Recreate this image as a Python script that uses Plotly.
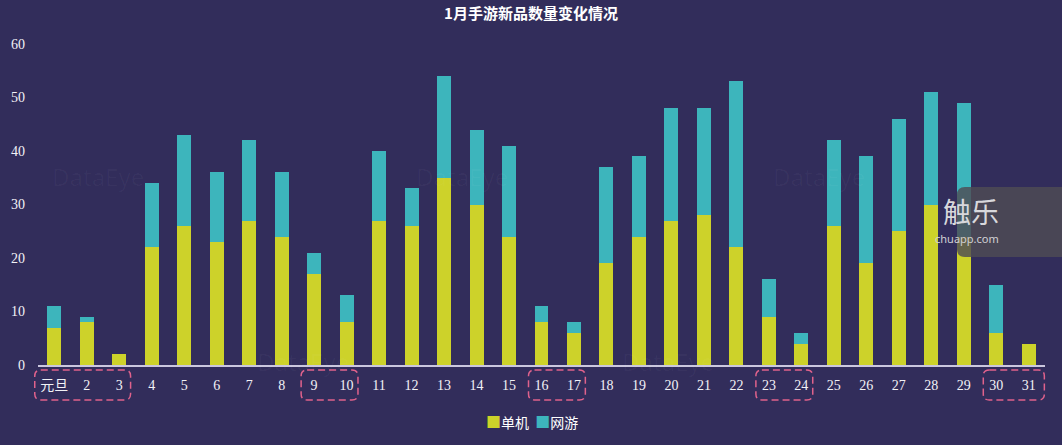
import plotly.graph_objects as go

# ---- data ----
days = ["元旦"] + [str(i) for i in range(2, 32)]
series_names = ["单机", "网游"]
single = [7, 8, 2, 22, 26, 23, 27, 24, 17, 8, 27, 26, 35, 30, 24, 8, 6, 19, 24, 27, 28, 22, 9, 4, 26, 19, 25, 30, 24, 6, 4]
total = [11, 9, 2, 34, 43, 36, 42, 36, 21, 13, 40, 33, 54, 44, 41, 11, 8, 37, 39, 48, 48, 53, 16, 6, 42, 39, 46, 51, 49, 15, 4]
online = [t - s for t, s in zip(total, single)]
y_ticks = [0, 10, 20, 30, 40, 50, 60]
# highlighted (weekend / holiday) groups: first and last day index (1-based)
groups = [(1, 3), (9, 10), (16, 17), (23, 24), (30, 31)]

BG = "#322d5b"
YELLOW = "#cdd22a"
TEAL = "#3db5bc"
colors = [YELLOW, TEAL]

W, H = 1062, 445
ML, MR, MT, MB = 38, 17, 44, 80
PW, PH = W - ML - MR, H - MT - MB
N = len(days)

fig = go.Figure()
for name, vals, col in zip(series_names, [single, online], colors):
    fig.add_trace(go.Bar(name=name, x=days, y=vals, marker=dict(color=col, line=dict(width=0))))

def px_y(p):
    return (MT + PH - p) / PH

shapes = []
r = 6
rx, ry = r / PW, r / PH
yt, yb = px_y(370), px_y(400)
for k, (a, b) in enumerate(groups):
    lpad = -0.6 if k == 0 else -0.4
    rpad = 0.48 if k == len(groups) - 1 else 0.35
    x0 = (a - 1 + 0.5 + lpad) / N
    x1 = (b - 1 + 0.5 + rpad) / N
    path = (f"M {x0+rx},{yt} L {x1-rx},{yt} Q {x1},{yt} {x1},{yt-ry} "
            f"L {x1},{yb+ry} Q {x1},{yb} {x1-rx},{yb} L {x0+rx},{yb} "
            f"Q {x0},{yb} {x0},{yb+ry} L {x0},{yt-ry} Q {x0},{yt} {x0+rx},{yt} Z")
    shapes.append(dict(type="path", path=path, xref="paper", yref="paper",
                       line=dict(color="#e0628c", width=1.5, dash="7px,4px")))

# chuapp watermark box
bx0, bx1 = (957 - ML) / PW, (1062 - ML) / PW
by0, by1 = px_y(257), px_y(187)
rr = 8 / PW
rry = 8 / PH
shapes.append(dict(type="path", xref="paper", yref="paper", layer="above",
                   path=(f"M {bx0+rr},{by1} L {bx1},{by1} L {bx1},{by0} L {bx0+rr},{by0} "
                         f"Q {bx0},{by0} {bx0},{by0+rry} L {bx0},{by1-rry} Q {bx0},{by1} {bx0+rr},{by1} Z"),
                   fillcolor="rgba(78,76,84,0.82)", line=dict(width=0)))

annotations = []
# DataEye faint watermarks
for (xp, yp) in [(50, 176), (462, 176), (867, 176), (255, 380), (668, 380)]:
    annotations.append(dict(text="DataEye", x=(xp - ML) / PW, y=px_y(yp), xref="paper", yref="paper",
                            showarrow=False, font=dict(family="Noto Sans", size=24, color="rgba(255,255,255,0.03)")))
annotations.append(dict(text="触乐", x=(1001 - ML) / PW, y=px_y(211), xref="paper", yref="paper",
                        showarrow=False, font=dict(family="Noto Sans CJK SC", size=28, color="#d8d8dc")))
annotations.append(dict(text="chuapp.com", x=(1001 - ML) / PW, y=px_y(238), xref="paper", yref="paper",
                        showarrow=False, font=dict(family="Noto Sans", size=11, color="#d0d0d4")))

# compact legend (square right next to the label, as in the reference)
legend_text = "&nbsp;&nbsp;".join(
    f'<span style="color:{c};font-size:15px">■</span>{n}' for n, c in zip(series_names, colors))
annotations.append(dict(text=legend_text, x=(532 - ML) / PW, y=px_y(422), xref="paper", yref="paper",
                        xanchor="center", yanchor="middle", showarrow=False,
                        font=dict(family="Noto Sans CJK SC", size=14, color="#ffffff")))

fig.update_layout(
    width=W, height=H,
    margin=dict(l=ML, r=MR, t=MT, b=MB, autoexpand=False),
    paper_bgcolor=BG, plot_bgcolor=BG,
    barmode="stack", bargap=0.57,
    title=dict(text="<b>1月手游新品数量变化情况</b>", x=0.5, xref="container", y=1 - 14 / H,
               yanchor="middle", font=dict(family="Noto Sans CJK SC", size=15, color="#ffffff")),
    showlegend=False,
    xaxis=dict(type="category", showgrid=False, zeroline=False, showline=True,
               linecolor="#cbc7de", linewidth=1.5, ticks="", ticklabelstandoff=6,
               tickfont=dict(family="Liberation Serif, Noto Sans CJK SC", size=14, color="#f2f2f6"),
               range=[-0.5, N - 0.5], automargin=False),
    yaxis=dict(range=[0, 60], tickvals=y_ticks, showgrid=False, zeroline=False, showline=False,
               ticks="", ticklabelstandoff=12, automargin=False,
               tickfont=dict(family="Liberation Serif", size=14, color="#f2f2f6")),
    shapes=shapes, annotations=annotations,
)

fig.write_html("out.html", config={"displayModeBar": False},
               post_script="document.body.style.margin='0';document.body.style.background='" + BG + "';")
